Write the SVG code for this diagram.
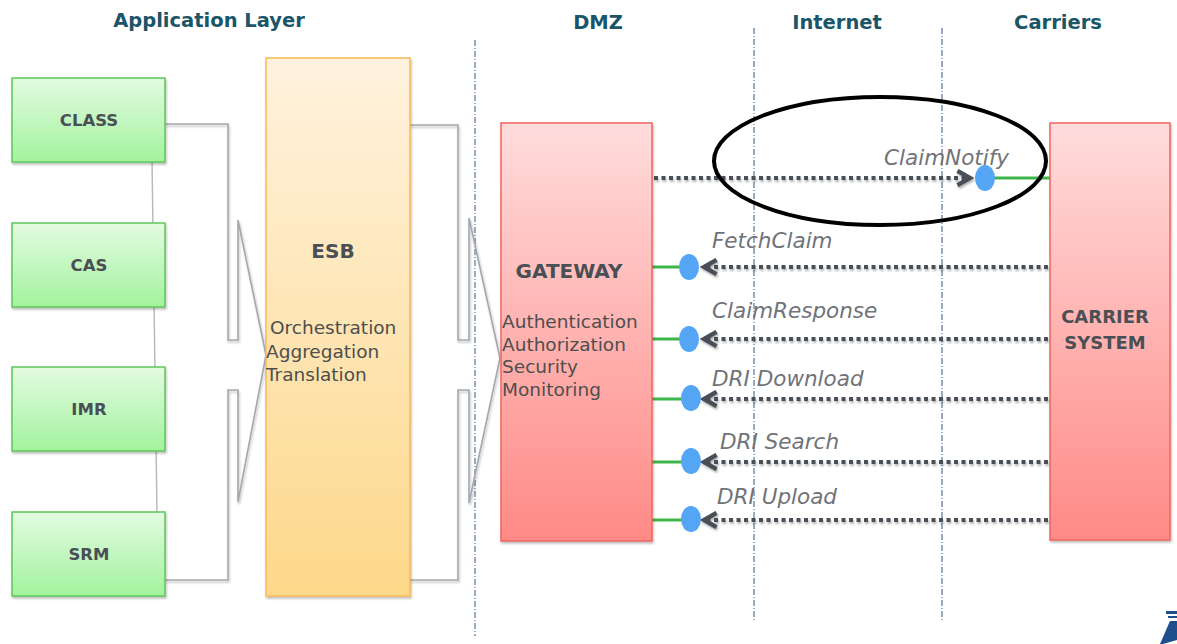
<svg xmlns="http://www.w3.org/2000/svg" width="1177" height="644" viewBox="0 0 1177 644">
  <defs>
    <linearGradient id="gGreen" x1="0" y1="0" x2="0" y2="1">
      <stop offset="0" stop-color="#E3FBE1"/>
      <stop offset="1" stop-color="#A2F39E"/>
    </linearGradient>
    <linearGradient id="gOrange" x1="0" y1="0" x2="0" y2="1">
      <stop offset="0" stop-color="#FFF2DE"/>
      <stop offset="1" stop-color="#FDD88A"/>
    </linearGradient>
    <linearGradient id="gRed" x1="0" y1="0" x2="0" y2="1">
      <stop offset="0" stop-color="#FFDCDC"/>
      <stop offset="1" stop-color="#FF8A86"/>
    </linearGradient>
    <filter id="shadow" x="-10%" y="-10%" width="130%" height="130%">
      <feDropShadow dx="1" dy="2" stdDeviation="1.2" flood-color="#000" flood-opacity="0.25"/>
    </filter>
    <!-- user-space region so that flat horizontal lines keep their shadow -->
    <filter id="lineShadow" filterUnits="userSpaceOnUse" x="0" y="0" width="1177" height="644">
      <feDropShadow dx="1" dy="2" stdDeviation="1.2" flood-color="#000" flood-opacity="0.3"/>
    </filter>
    <marker id="chev" viewBox="0 0 10 10" refX="8" refY="5" markerWidth="4.5" markerHeight="4.5" orient="auto-start-reverse" markerUnits="strokeWidth">
      <path d="M1,1 L8,5 L1,9" fill="none" stroke="#4A5057" stroke-width="2.4" stroke-linejoin="miter"/>
    </marker>
    <style>
      .hdr { font-family: "DejaVu Sans", "Liberation Sans", sans-serif; font-weight: bold; font-size: 19.5px; fill: #1A5568; text-anchor: middle; }
      .zone { stroke: #2E5A86; stroke-width: 1; stroke-dasharray: 6 2 1 2; fill: none; }
      .app rect { fill: url(#gGreen); stroke: #5CC65A; stroke-width: 1.5; filter: url(#shadow); }
      .app text, .title { font-family: "DejaVu Sans", "Liberation Sans", sans-serif; font-weight: bold; font-size: 16.5px; fill: #4A4F55; text-anchor: middle; }
      .big { font-size: 20px; }
      .sys { font-size: 18px; }
      .body { font-family: "DejaVu Sans", "Liberation Sans", sans-serif; font-size: 18.5px; fill: #4E4E4E; }
      .link { fill: none; stroke: #A4A8AD; stroke-width: 1.6; filter: url(#shadow); }
      .msg { fill: none; stroke: #4A5057; stroke-width: 4; stroke-dasharray: 4 3.5; filter: url(#lineShadow); }
      .stub { stroke: #3DB54A; stroke-width: 3; }
      .port { fill: #55A5F5; }
      .lbl { font-family: "DejaVu Sans", "Liberation Sans", sans-serif; font-style: italic; font-size: 21.5px; fill: #707378; }
    </style>
  </defs>

  <rect width="1177" height="644" fill="#FFFFFF"/>

  <!-- zone headers -->
  <g id="headers">
    <text class="hdr" x="209" y="27">Application Layer</text>
    <text class="hdr" x="598" y="29">DMZ</text>
    <text class="hdr" x="837" y="29">Internet</text>
    <text class="hdr" x="1058" y="29">Carriers</text>
  </g>

  <!-- zone separators -->
  <g id="zones">
    <line class="zone" x1="475" y1="40" x2="475" y2="636"/>
    <line class="zone" x1="754" y1="28" x2="754" y2="622"/>
    <line class="zone" x1="942" y1="28" x2="942" y2="622"/>
  </g>

  <!-- connectors -->
  <g id="connectors">
    <!-- vertical spine behind the application boxes -->
    <line x1="152" y1="160" x2="157" y2="514" stroke="#B4B8BC" stroke-width="1.4"/>
    <!-- application boxes into ESB -->
    <polyline class="link" points="165,124 228,124 228,340 238,340 238,220 266,355"/>
    <polyline class="link" points="165,580 228,580 228,390 238,390 238,502 266,355"/>
    <!-- ESB into gateway -->
    <polyline class="link" points="410,125 458,125 458,340 469,340 469,218 500,358"/>
    <polyline class="link" points="410,580 458,580 458,390 469,390 469,503 500,358"/>

    <!-- ClaimNotify: gateway to carrier -->
    <line class="msg" x1="654" y1="178" x2="970" y2="178" marker-end="url(#chev)"/>
    <line class="stub" x1="994" y1="178" x2="1050" y2="178"/>
    <ellipse class="port" cx="985" cy="178" rx="10" ry="13"/>
    <text class="lbl" x="884" y="165">ClaimNotify</text>

    <!-- carrier to gateway calls -->
    <line class="msg" x1="1048" y1="267" x2="704" y2="267" marker-end="url(#chev)"/>
    <line class="stub" x1="652" y1="267" x2="682" y2="267"/>
    <ellipse class="port" cx="689" cy="267" rx="10" ry="13"/>
    <text class="lbl" x="712" y="248">FetchClaim</text>

    <line class="msg" x1="1048" y1="339" x2="704" y2="339" marker-end="url(#chev)"/>
    <line class="stub" x1="652" y1="339" x2="682" y2="339"/>
    <ellipse class="port" cx="689" cy="339" rx="10" ry="13"/>
    <text class="lbl" x="712" y="318">ClaimResponse</text>

    <line class="msg" x1="1048" y1="399" x2="704" y2="399" marker-end="url(#chev)"/>
    <line class="stub" x1="652" y1="399" x2="682" y2="399"/>
    <ellipse class="port" cx="691" cy="398" rx="10" ry="13"/>
    <text class="lbl" x="712" y="386">DRI Download</text>

    <line class="msg" x1="1048" y1="462" x2="704" y2="462" marker-end="url(#chev)"/>
    <line class="stub" x1="652" y1="462" x2="682" y2="462"/>
    <ellipse class="port" cx="691" cy="461" rx="10" ry="13"/>
    <text class="lbl" x="720" y="449">DRI Search</text>

    <line class="msg" x1="1048" y1="520" x2="704" y2="520" marker-end="url(#chev)"/>
    <line class="stub" x1="652" y1="520" x2="682" y2="520"/>
    <ellipse class="port" cx="691" cy="519" rx="10" ry="13"/>
    <text class="lbl" x="717" y="504">DRI Upload</text>
  </g>

  <!-- application layer systems -->
  <g id="class" class="app">
    <rect x="12" y="78" width="153" height="84"/>
    <text x="89" y="126">CLASS</text>
  </g>
  <g id="cas" class="app">
    <rect x="12" y="223" width="153" height="84"/>
    <text x="89" y="271">CAS</text>
  </g>
  <g id="imr" class="app">
    <rect x="12" y="367" width="153" height="84"/>
    <text x="89" y="415">IMR</text>
  </g>
  <g id="srm" class="app">
    <rect x="12" y="512" width="153" height="84"/>
    <text x="89" y="560">SRM</text>
  </g>

  <!-- enterprise service bus -->
  <g id="esb">
    <rect x="266" y="58" width="144" height="538" fill="url(#gOrange)" stroke="#F8B955" stroke-width="1.5" filter="url(#shadow)"/>
    <text class="title big" x="333" y="258">ESB</text>
    <text class="body" x="270" y="334">Orchestration</text>
    <text class="body" x="266" y="358">Aggregation</text>
    <text class="body" x="266" y="381">Translation</text>
  </g>

  <!-- DMZ gateway -->
  <g id="gateway">
    <rect x="501" y="123" width="151" height="418" fill="url(#gRed)" stroke="#F06460" stroke-width="1.5" filter="url(#shadow)"/>
    <text class="title big" x="569" y="278">GATEWAY</text>
    <text class="body" x="502" y="328">Authentication</text>
    <text class="body" x="502" y="351">Authorization</text>
    <text class="body" x="502" y="373">Security</text>
    <text class="body" x="502" y="396">Monitoring</text>
  </g>

  <!-- carrier system -->
  <g id="carrier">
    <rect x="1050" y="123" width="120" height="417" fill="url(#gRed)" stroke="#F06460" stroke-width="1.5" filter="url(#shadow)"/>
    <text class="title sys" x="1105" y="323">CARRIER</text>
    <text class="title sys" x="1105" y="349">SYSTEM</text>
  </g>

  <!-- highlight around the notification call -->
  <ellipse id="highlight" cx="880" cy="161" rx="166" ry="64" fill="none" stroke="#000" stroke-width="4"/>

  <!-- corner logo fragment -->
  <g id="logo" fill="#1F4E8C">
    <rect x="1166" y="611" width="11" height="3"/>
    <rect x="1168" y="616" width="9" height="2"/>
    <polygon points="1170,621 1177,621 1177,640 1163,644 1160,644"/>
  </g>
</svg>
